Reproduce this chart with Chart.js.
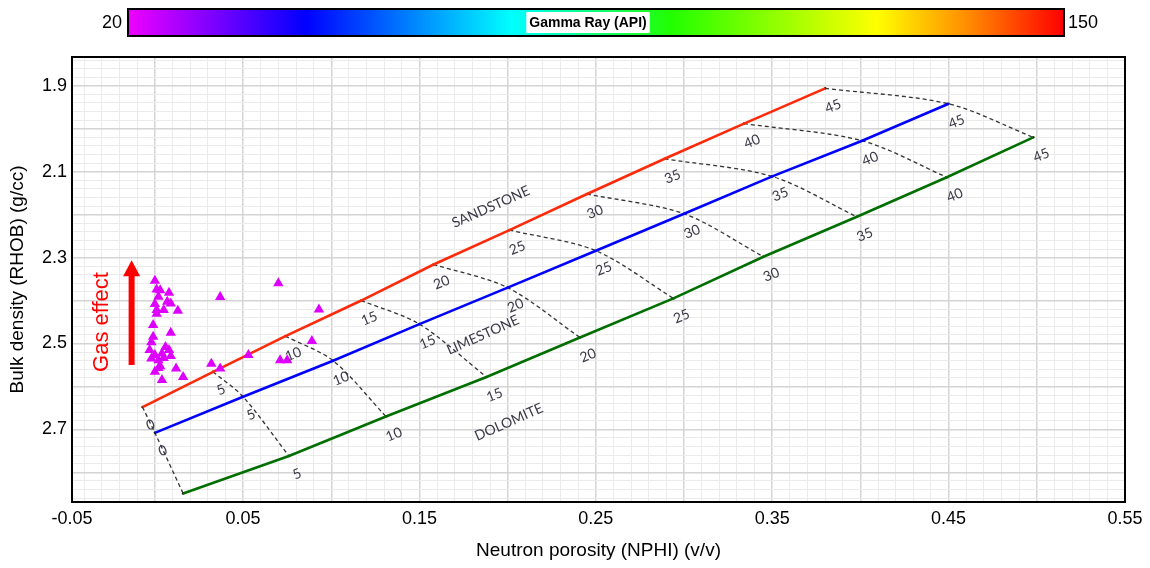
<!DOCTYPE html>
<html>
<head>
<meta charset="utf-8">
<title>Neutron-density crossplot</title>
<style>
  html, body { margin: 0; padding: 0; background: #ffffff; }
  canvas { display: block; }
</style>
<script src="https://cdn.jsdelivr.net/npm/chart.js@4.4.1/dist/chart.umd.min.js"></script>
</head>
<body>
<canvas id="crossplot" width="1150" height="568"></canvas>
<script>
// ---- Data -------------------------------------------------------------
// Porosity (p.u.) at each labelled node of the lithology lines
const porosityLevels = [0, 5, 10, 15, 20, 25, 30, 35, 40, 45];

// Sandstone matrix line
const sandstoneNphi = [-0.007, 0.033, 0.074, 0.117, 0.158, 0.201, 0.245, 0.289, 0.334, 0.380];
const sandstoneRhob = [2.648, 2.566, 2.483, 2.400, 2.316, 2.236, 2.152, 2.070, 1.988, 1.906];

// Limestone matrix line
const limestoneNphi = [0.000, 0.050, 0.101, 0.150, 0.200, 0.250, 0.300, 0.350, 0.401, 0.450];
const limestoneRhob = [2.708, 2.624, 2.540, 2.455, 2.370, 2.284, 2.198, 2.111, 2.028, 1.942];

// Dolomite matrix line
const dolomiteNphi = [0.016, 0.076, 0.131, 0.188, 0.241, 0.294, 0.345, 0.398, 0.449, 0.498];
const dolomiteRhob = [2.849, 2.762, 2.670, 2.578, 2.486, 2.395, 2.298, 2.205, 2.113, 2.020];

// Log samples (NPHI, RHOB)
const sampleNphi = [
  0.000, 0.001, 0.002, 0.000, 0.001, 0.001, -0.001, -0.001, -0.002, 0.000,
  0.002, 0.003, 0.000, 0.004, 0.008, 0.007, 0.009, 0.005, 0.009, 0.006,
  0.008, 0.004, 0.012, 0.013, 0.016, 0.032, 0.037, 0.037, 0.053, 0.070,
  0.093, 0.089, 0.071, 0.075, -0.003, 0.005, 0.002, 0.009, 0.003, -0.002
];
const sampleRhob = [
  2.354, 2.374, 2.391, 2.408, 2.422, 2.431, 2.457, 2.484, 2.535, 2.527,
  2.539, 2.553, 2.566, 2.585, 2.382, 2.403, 2.407, 2.422, 2.475, 2.508,
  2.515, 2.523, 2.558, 2.424, 2.578, 2.547, 2.558, 2.392, 2.527, 2.360,
  2.421, 2.494, 2.539, 2.539, 2.515, 2.534, 2.557, 2.529, 2.376, 2.497
];

// Axis tick labels
const xTickLabels = ['-0.05', '0.05', '0.15', '0.25', '0.35', '0.45', '0.55'];
const yTickLabels = ['1.9', '2.1', '2.3', '2.5', '2.7'];

// Gamma-ray colour scale (API)
const gammaRayRange = [20, 150];

// ---- Styling / layout ---------------------------------------------------
const FONT = '"Liberation Sans", Arial, sans-serif';
const LABEL_FONT = 'Lato, "Open Sans", sans-serif';
const lithologies = [
  { name: 'SANDSTONE', nphi: sandstoneNphi, rhob: sandstoneRhob, color: '#ff2a0a',
    labelAt: { x: 0.1905, y: 2.182 } },
  { name: 'LIMESTONE', nphi: limestoneNphi, rhob: limestoneRhob, color: '#0000ff',
    labelAt: { x: 0.186, y: 2.480 } },
  { name: 'DOLOMITE', nphi: dolomiteNphi, rhob: dolomiteRhob, color: '#006e00',
    labelAt: { x: 0.2007, y: 2.683 } }
];
const gasArrow = { x: -0.0132, yFrom: 2.550, yTo: 2.306, textX: -0.0302, textY: 2.450 };
const colorStops = [
  [0.00, '#ee00ff'], [0.19, '#0000ff'], [0.41, '#00ffff'], [0.58, '#22ff00'],
  [0.80, '#ffff00'], [0.90, '#ff8800'], [1.00, '#ff0000']
];

const pts = (xs, ys) => xs.map((v, i) => ({ x: v, y: ys[i] }));

const datasets = [];
datasets.push({
  label: 'Samples',
  data: pts(sampleNphi, sampleRhob),
  pointStyle: 'triangle',
  pointRadius: 6,
  backgroundColor: '#dd00ff',
  borderColor: '#dd00ff',
  borderWidth: 0,
  order: 0
});
lithologies.forEach(l => {
  datasets.push({
    label: l.name,
    data: pts(l.nphi, l.rhob),
    showLine: true,
    borderColor: l.color,
    borderWidth: 2.6,
    pointRadius: 0,
    order: 2
  });
});
porosityLevels.forEach((p, i) => {
  datasets.push({
    label: 'phi ' + p,
    data: lithologies.map(l => ({ x: l.nphi[i], y: l.rhob[i] })),
    showLine: true,
    borderColor: '#333333',
    borderWidth: 1.3,
    borderDash: [4, 3],
    tension: 0.3,
    pointRadius: 1.3,
    pointBackgroundColor: '#222222',
    pointBorderWidth: 0,
    order: 3
  });
});

const isMajorX = v => Math.abs(Math.round(v * 100)) % 5 === 0;
const isMajorY = v => Math.round(v * 50) % 5 === 0;

const overlay = {
  id: 'overlay',
  beforeDraw(chart) {
    const { ctx, width, height } = chart;
    ctx.save();
    ctx.fillStyle = '#ffffff';
    ctx.fillRect(0, 0, width, height);
    ctx.restore();
  },
  afterDatasetsDraw(chart) {
    const { ctx, chartArea: a, scales: { x, y } } = chart;
    ctx.save();
    ctx.beginPath();
    ctx.rect(a.left, a.top, a.right - a.left, a.bottom - a.top);
    ctx.clip();

    const ang = -22 * Math.PI / 180;
    // porosity labels beside each node
    ctx.fillStyle = '#3a3a48';
    ctx.font = '14px ' + LABEL_FONT;
    ctx.textAlign = 'center';
    ctx.textBaseline = 'middle';
    lithologies.forEach(l => {
      porosityLevels.forEach((p, i) => {
        const px = x.getPixelForValue(l.nphi[i]) + 8;
        const py = y.getPixelForValue(l.rhob[i]) + 18;
        ctx.save();
        ctx.translate(px, py);
        ctx.rotate(ang);
        ctx.fillText(String(p), 0, 0);
        ctx.restore();
      });
    });
    // lithology names
    lithologies.forEach(l => {
      ctx.save();
      ctx.translate(x.getPixelForValue(l.labelAt.x), y.getPixelForValue(l.labelAt.y));
      ctx.rotate(-24 * Math.PI / 180);
      ctx.fillText(l.name, 0, 0);
      ctx.restore();
    });

    // gas effect arrow
    const ax = x.getPixelForValue(gasArrow.x);
    const y0 = y.getPixelForValue(gasArrow.yFrom);
    const y1 = y.getPixelForValue(gasArrow.yTo);
    ctx.fillStyle = '#ff0000';
    ctx.fillRect(ax - 3, y1 + 14, 6, y0 - y1 - 14);
    ctx.beginPath();
    ctx.moveTo(ax, y1);
    ctx.lineTo(ax + 8.5, y1 + 16);
    ctx.lineTo(ax - 8.5, y1 + 16);
    ctx.closePath();
    ctx.fill();
    ctx.save();
    ctx.translate(x.getPixelForValue(gasArrow.textX), y.getPixelForValue(gasArrow.textY));
    ctx.rotate(-Math.PI / 2);
    ctx.font = '22px ' + FONT;
    ctx.fillText('Gas effect', 0, 0);
    ctx.restore();
    ctx.restore();

    // plot frame
    ctx.save();
    ctx.strokeStyle = '#000000';
    ctx.lineWidth = 2;
    ctx.strokeRect(a.left, a.top, a.right - a.left, a.bottom - a.top);
    ctx.restore();
  },
  afterDraw(chart) {
    const { ctx } = chart;
    const bx = 128, by = 9, bw = 936, bh = 27;
    ctx.save();
    const g = ctx.createLinearGradient(bx, 0, bx + bw, 0);
    colorStops.forEach(s => g.addColorStop(s[0], s[1]));
    ctx.fillStyle = g;
    ctx.fillRect(bx, by, bw, bh);
    ctx.strokeStyle = '#000000';
    ctx.lineWidth = 2;
    ctx.strokeRect(bx, by, bw, bh);

    ctx.font = '18px ' + FONT;
    ctx.fillStyle = '#000000';
    ctx.textBaseline = 'middle';
    ctx.textAlign = 'right';
    ctx.fillText(String(gammaRayRange[0]), bx - 6, by + bh / 2 + 1);
    ctx.textAlign = 'left';
    ctx.fillText(String(gammaRayRange[1]), bx + bw + 4, by + bh / 2 + 1);

    const title = 'Gamma Ray (API)';
    ctx.font = 'bold 14px "Liberation Sans Narrow", ' + FONT;
    const tw = ctx.measureText(title).width;
    const cx = 588;
    ctx.fillStyle = '#ffffff';
    ctx.fillRect(cx - tw / 2 - 3, by + 3, tw + 6, bh - 6);
    ctx.fillStyle = '#000000';
    ctx.textAlign = 'center';
    ctx.fillText(title, cx, by + bh / 2 + 1);
    ctx.restore();
  }
};

new Chart(document.getElementById('crossplot'), {
  type: 'scatter',
  data: { datasets },
  plugins: [overlay],
  options: {
    responsive: false,
    animation: false,
    layout: { padding: { top: 57, right: 25, left: 0, bottom: 0 } },
    plugins: { legend: { display: false }, tooltip: { enabled: false } },
    scales: {
      x: {
        type: 'linear',
        min: -0.047,
        max: 0.55,
        afterBuildTicks(scale) {
          const t = [{ value: scale.min }];
          for (let i = -4; i <= 55; i++) t.push({ value: i / 100 });
          scale.ticks = t;
        },
        afterFit(scale) { scale.height = 66; },
        border: { display: false },
        grid: {
          drawTicks: false,
          color: c => isMajorX(c.tick.value) ? '#d4d4d4' : '#ebebeb',
          lineWidth: c => isMajorX(c.tick.value) ? 1.5 : 1
        },
        ticks: {
          autoSkip: false,
          maxRotation: 0,
          padding: 6,
          color: '#000000',
          font: { family: FONT, size: 18 },
          callback(v) {
            const r = Math.round(v * 100);
            if (((r % 10) + 10) % 10 !== 5) return '';
            return xTickLabels[(r + 5) / 10];
          }
        },
        title: {
          display: true,
          text: 'Neutron porosity (NPHI) (v/v)',
          color: '#000000',
          font: { family: FONT, size: 19 },
          padding: { top: 0, bottom: 6 }
        }
      },
      y: {
        type: 'linear',
        reverse: true,
        min: 1.833,
        max: 2.869,
        afterBuildTicks(scale) {
          const t = [];
          for (let i = 92; i <= 143; i++) t.push({ value: i / 50 });
          scale.ticks = t;
        },
        afterFit(scale) { scale.width = 72; },
        border: { display: false },
        grid: {
          drawTicks: false,
          color: c => isMajorY(c.tick.value) ? '#d4d4d4' : '#ebebeb',
          lineWidth: c => isMajorY(c.tick.value) ? 1.5 : 1
        },
        ticks: {
          autoSkip: false,
          padding: 5,
          color: '#000000',
          font: { family: FONT, size: 18 },
          callback(v) {
            const i = Math.round(v * 50);
            if ((i - 95) % 10 !== 0 || i < 95) return '';
            return yTickLabels[(i - 95) / 10];
          }
        },
        title: {
          display: true,
          text: 'Bulk density (RHOB) (g/cc)',
          color: '#000000',
          font: { family: FONT, size: 19 },
          padding: { top: 6, bottom: 0 }
        }
      }
    }
  }
});
</script>
</body>
</html>
